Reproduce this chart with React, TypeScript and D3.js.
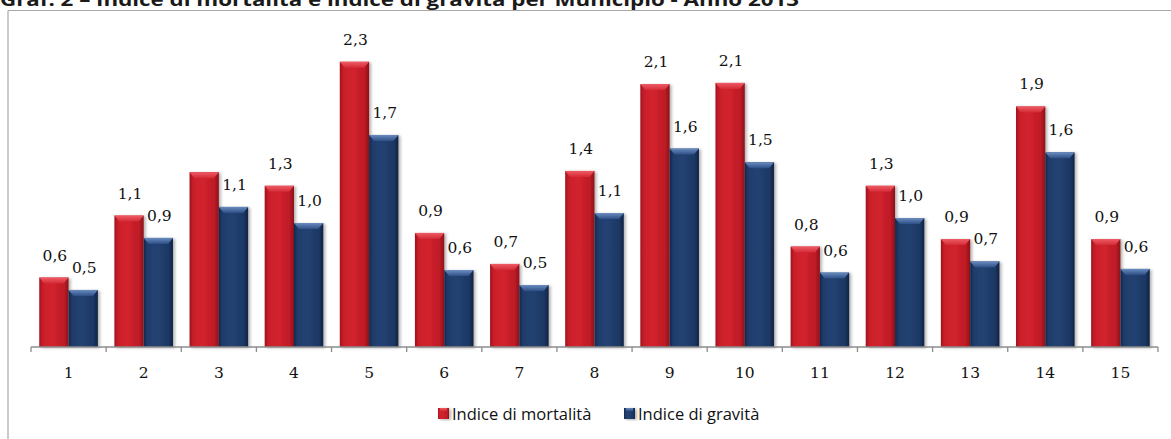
import React from 'react';
import * as d3 from 'd3';

const municipi = ['1', '2', '3', '4', '5', '6', '7', '8', '9', '10', '11', '12', '13', '14', '15'];
const mortalita = [0.56, 1.06, 1.41, 1.3, 2.3, 0.92, 0.67, 1.42, 2.12, 2.13, 0.81, 1.3, 0.87, 1.94, 0.87];
const gravita = [0.46, 0.88, 1.13, 1.0, 1.71, 0.62, 0.5, 1.08, 1.6, 1.49, 0.6, 1.04, 0.69, 1.57, 0.63];
// the reference shows no label on the red bar of municipio 3
const hiddenMortalitaLabels = ['3'];
const seriesNames = ['Indice di mortalità', 'Indice di gravità'];

const W = 1171;
const H = 439;

const fmt = (v: number) => d3.format('.1f')(v).replace('.', ',');

const App = () => {
  const x0 = d3.scaleBand<string>().domain(municipi).range([31, 1158]).padding(0);
  const bw = x0.bandwidth();
  const groupW = bw * 0.78;
  const off = (bw - groupW) / 2;
  const x1 = d3.scaleBand<string>().domain(seriesNames).range([off, off + groupW]).padding(0);
  const y = d3.scaleLinear().domain([0, 2.5]).range([347, 37]);
  const barW = x1.bandwidth();

  const series = [
    { name: seriesNames[0], values: mortalita, grad: 'gRed', cap: 'cRed' },
    { name: seriesNames[1], values: gravita, grad: 'gBlue', cap: 'cBlue' },
  ];

  const capH = 6;
  const capIn = 5;
  const labelFont = '15.5px "DejaVu Serif"';

  return (
    <div style={{ position: 'absolute', left: 0, top: 0 }}>
      <svg width={W} height={H} style={{ display: 'block', background: '#fff' }}>
        <defs>
          <linearGradient id="gRed" x1="0" x2="1" y1="0" y2="0">
            <stop offset="0" stopColor="#9c131c" />
            <stop offset="0.12" stopColor="#c91f2a" />
            <stop offset="0.45" stopColor="#d2222e" />
            <stop offset="0.85" stopColor="#bd1b26" />
            <stop offset="1" stopColor="#8a1018" />
          </linearGradient>
          <linearGradient id="cRed" x1="0" x2="0" y1="0" y2="1">
            <stop offset="0" stopColor="#ee5c65" />
            <stop offset="1" stopColor="#d42a35" />
          </linearGradient>
          <linearGradient id="gBlue" x1="0" x2="1" y1="0" y2="0">
            <stop offset="0" stopColor="#13274a" />
            <stop offset="0.12" stopColor="#1f3c6b" />
            <stop offset="0.45" stopColor="#234272" />
            <stop offset="0.85" stopColor="#1c3763" />
            <stop offset="1" stopColor="#112342" />
          </linearGradient>
          <linearGradient id="cBlue" x1="0" x2="0" y1="0" y2="1">
            <stop offset="0" stopColor="#6a8cbf" />
            <stop offset="1" stopColor="#2d4f86" />
          </linearGradient>
          <filter id="shadow" x="-20%" y="-10%" width="150%" height="120%">
            <feDropShadow dx="2" dy="1" stdDeviation="1.5" floodColor="#000" floodOpacity="0.3" />
          </filter>
        </defs>

        {/* title, cut at the top in the reference */}
        <text
          x={0}
          y={6}
          textLength={799}
          lengthAdjust="spacingAndGlyphs"
          style={{ font: 'bold 17px "Open Sans"', fill: '#1a1a1a' }}
        >
          Graf. 2 – Indice di mortalità e indice di gravità per Municipio - Anno 2013
        </text>

        {/* frame */}
        <line x1={8} x2={W} y1={10.5} y2={10.5} stroke="#a8a8a8" strokeWidth={1.2} />
        <line x1={8} x2={8} y1={10.5} y2={H} stroke="#a8a8a8" strokeWidth={1.2} />

        {/* bars */}
        {series.map((s) => (
          <g key={s.name}>
            {s.values.map((v, i) => {
              const bx = (x0(municipi[i]) as number) + (x1(s.name) as number);
              const top = y(v);
              const h = y(0) - top;
              return (
                <g key={i} filter="url(#shadow)">
                  <rect x={bx} y={top} width={barW} height={h} fill={`url(#${s.grad})`} />
                  <path
                    d={`M${bx},${top}L${bx + barW},${top}L${bx + barW - capIn},${top + capH}L${bx + capIn},${top + capH}Z`}
                    fill={`url(#${s.cap})`}
                  />
                </g>
              );
            })}
          </g>
        ))}

        {/* value labels */}
        {series.map((s, si) => (
          <g key={s.name + 'l'}>
            {s.values.map((v, i) => {
              if (si === 0 && hiddenMortalitaLabels.includes(municipi[i])) return null;
              const cx = (x0(municipi[i]) as number) + (x1(s.name) as number) + barW / 2 + 1;
              return (
                <text
                  key={i}
                  x={cx}
                  y={y(v) - 17}
                  textAnchor="middle"
                  style={{ font: labelFont, fill: '#111' }}
                >
                  {fmt(v)}
                </text>
              );
            })}
          </g>
        ))}

        {/* x axis */}
        <line x1={31} x2={1158} y1={y(0)} y2={y(0)} stroke="#8c8c8c" strokeWidth={1.3} />
        {[...municipi.map((m) => x0(m) as number), 1158].map((tx, i) => (
          <line key={i} x1={tx} x2={tx} y1={y(0)} y2={y(0) + 5} stroke="#8c8c8c" strokeWidth={1.3} />
        ))}
        {municipi.map((m) => (
          <text
            key={m}
            x={(x0(m) as number) + bw / 2}
            y={378}
            textAnchor="middle"
            style={{ font: labelFont, fill: '#111' }}
          >
            {m}
          </text>
        ))}

        {/* legend */}
        {series.map((s, i) => {
          const lx = i === 0 ? 438 : 624;
          return (
            <g key={s.name + 'leg'} transform={`translate(${lx},408)`}>
              <rect x={0} y={0} width={11} height={11} fill={`url(#${s.grad})`} filter="url(#shadow)" />
              <rect x={2} y={0} width={7} height={3} fill={`url(#${s.cap})`} />
              <text x={14} y={12} style={{ font: '16.5px "Open Sans"', fill: '#111' }}>
                {s.name}
              </text>
            </g>
          );
        })}
      </svg>
    </div>
  );
};

export default App;
